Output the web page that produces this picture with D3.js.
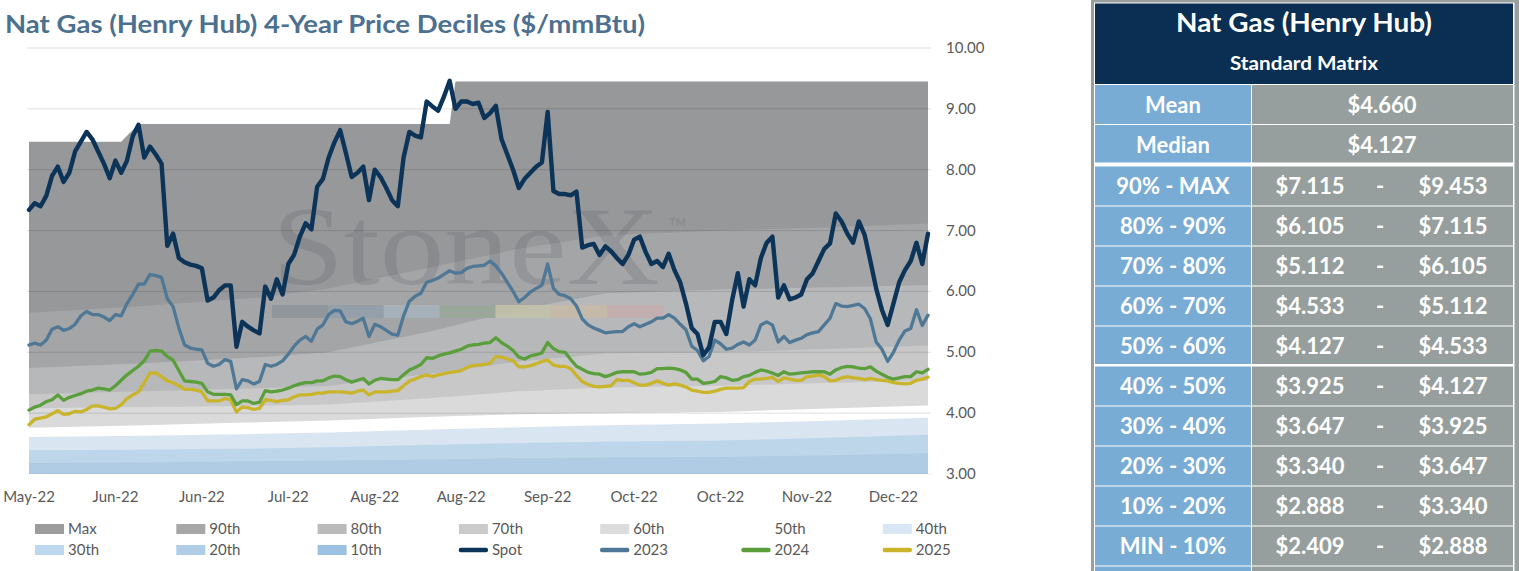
<!DOCTYPE html>
<html><head><meta charset="utf-8">
<script src="https://cdn.jsdelivr.net/npm/d3@7"></script>
<style>
html,body{margin:0;padding:0;background:#fff;}
svg{display:block;font-family:Lato,"Open Sans",sans-serif;}
</style></head><body>
<svg id="c" width="1519" height="571"></svg>
<script>
// ---------------- DATA ----------------
const tickLabels = ["May-22","Jun-22","Jun-22","Jul-22","Aug-22","Aug-22","Sep-22","Oct-22","Oct-22","Nov-22","Dec-22"];
const tickEvery = 15;
const yTicks = [3,4,5,6,7,8,9,10];

const spot = [7.34,7.45,7.40,7.57,7.9,8.05,7.8,7.95,8.3,8.46,
8.62,8.5,8.3,8.1,7.86,8.15,7.95,8.15,8.55,8.74,
8.2,8.38,8.25,8.1,6.75,6.95,6.55,6.48,6.44,6.42,
6.38,5.85,5.9,6.02,6.1,6.1,5.09,5.5,5.42,5.36,
5.31,6.08,5.88,6.2,5.95,6.45,6.6,6.9,7.12,7.02,
7.72,7.85,8.2,8.45,8.65,8.27,7.88,7.95,8.05,7.5,
8.0,7.88,7.7,7.5,7.4,8.2,8.62,8.56,8.53,9.12,
9.04,8.97,9.2,9.46,9.0,9.12,9.12,9.08,9.1,8.85,
8.93,9.05,8.5,8.25,8.0,7.7,7.85,7.95,8.05,8.12,
8.95,7.65,7.6,7.6,7.58,7.64,6.72,6.76,6.78,6.6,
6.74,6.66,6.55,6.45,6.6,6.85,6.9,6.65,6.45,6.5,
6.4,6.62,6.35,6.15,5.8,5.4,5.3,4.95,5.08,5.5,
5.5,5.3,5.85,6.3,5.75,6.2,6.1,6.55,6.8,6.9,
5.9,6.1,5.87,5.9,5.95,6.2,6.3,6.5,6.7,6.79,
7.28,7.15,6.95,6.8,7.15,6.93,6.5,6.05,5.7,5.45,
5.8,6.15,6.35,6.5,6.8,6.45,6.95];

const y2023 = [5.12,5.15,5.12,5.2,5.38,5.42,5.36,5.39,5.46,5.6,
5.67,5.62,5.62,5.58,5.52,5.62,5.6,5.8,5.95,6.12,
6.12,6.28,6.26,6.23,5.88,5.75,5.4,5.12,5.07,5.05,
5.04,4.82,4.77,4.8,4.88,4.85,4.4,4.55,4.53,4.48,
4.52,4.8,4.77,4.8,4.86,4.97,5.1,5.2,5.26,5.18,
5.38,5.45,5.62,5.69,5.68,5.5,5.47,5.51,5.56,5.26,
5.46,5.42,5.36,5.3,5.28,5.6,5.84,5.92,5.97,6.15,
6.18,6.22,6.28,6.34,6.3,6.31,6.38,6.41,6.42,6.43,
6.5,6.42,6.3,6.15,6.0,5.83,5.9,5.99,6.05,6.1,
6.45,6.05,5.95,5.93,5.88,5.76,5.55,5.45,5.4,5.36,
5.32,5.33,5.34,5.34,5.42,5.47,5.42,5.46,5.5,5.56,
5.56,5.62,5.56,5.46,5.37,5.1,5.03,4.86,4.93,5.2,
5.14,5.05,5.07,5.13,5.17,5.12,5.2,5.45,5.5,5.45,
5.17,5.26,5.16,5.2,5.23,5.29,5.32,5.34,5.45,5.56,
5.8,5.76,5.75,5.77,5.79,5.72,5.55,5.17,5.05,4.85,
5.0,5.2,5.35,5.39,5.7,5.44,5.61];

const y2024 = [4.05,4.1,4.13,4.19,4.22,4.3,4.21,4.26,4.29,4.32,
4.36,4.38,4.41,4.4,4.38,4.45,4.54,4.63,4.7,4.77,
4.86,5.02,5.03,5.02,4.93,4.87,4.7,4.53,4.52,4.51,
4.49,4.35,4.31,4.31,4.31,4.3,4.14,4.2,4.2,4.16,
4.18,4.37,4.35,4.36,4.38,4.41,4.45,4.48,4.5,4.5,
4.53,4.53,4.58,4.61,4.6,4.55,4.51,4.54,4.57,4.48,
4.54,4.57,4.56,4.55,4.55,4.63,4.71,4.75,4.8,4.91,
4.9,4.94,4.97,4.99,5.02,5.05,5.1,5.12,5.13,5.15,
5.16,5.24,5.16,5.1,5.03,4.92,4.89,4.94,4.96,4.99,
5.16,5.06,5.01,5.0,4.88,4.77,4.72,4.67,4.65,4.64,
4.6,4.63,4.67,4.68,4.68,4.68,4.64,4.65,4.67,4.73,
4.73,4.74,4.73,4.71,4.67,4.56,4.56,4.49,4.5,4.52,
4.6,4.58,4.54,4.55,4.6,4.62,4.67,4.71,4.69,4.66,
4.62,4.68,4.64,4.65,4.66,4.67,4.68,4.68,4.68,4.64,
4.71,4.75,4.77,4.76,4.74,4.73,4.76,4.69,4.64,4.59,
4.56,4.58,4.6,4.6,4.68,4.66,4.72];

const y2025 = [3.81,3.9,3.92,3.94,3.99,4.04,3.98,3.99,4.03,4.02,
4.06,4.12,4.12,4.1,4.07,4.08,4.14,4.24,4.3,4.35,
4.5,4.66,4.66,4.6,4.53,4.5,4.45,4.39,4.39,4.38,
4.35,4.2,4.2,4.2,4.24,4.22,4.02,4.1,4.09,4.06,
4.08,4.22,4.21,4.19,4.21,4.22,4.27,4.3,4.3,4.31,
4.33,4.33,4.35,4.35,4.35,4.34,4.33,4.36,4.38,4.3,
4.35,4.35,4.35,4.36,4.37,4.45,4.53,4.56,4.6,4.63,
4.6,4.63,4.65,4.67,4.68,4.7,4.75,4.78,4.79,4.8,
4.82,4.93,4.92,4.89,4.86,4.76,4.76,4.78,4.81,4.85,
4.87,4.79,4.77,4.77,4.73,4.62,4.52,4.47,4.44,4.43,
4.44,4.45,4.55,4.54,4.54,4.5,4.46,4.46,4.49,4.53,
4.49,4.46,4.48,4.46,4.43,4.38,4.36,4.34,4.34,4.36,
4.39,4.41,4.41,4.41,4.42,4.52,4.56,4.56,4.57,4.59,
4.52,4.58,4.56,4.54,4.54,4.6,4.61,4.63,4.6,4.53,
4.54,4.58,4.6,4.58,4.57,4.55,4.57,4.55,4.54,4.53,
4.5,4.49,4.48,4.49,4.54,4.56,4.59];

// decile curves (sampled on bandDays)
const bandDays = [0,20,40,52,70,85,100,120,140,156];
const maxDays  = [0,16,19,73,74,156];
const maxVals  = [8.46,8.46,8.75,8.75,9.45,9.45];
const p90 = [5.65,5.76,5.9,6.05,6.4,6.7,6.92,7.0,7.06,7.115];
const p80 = [4.74,4.82,4.92,5.0,5.35,5.7,5.97,6.03,6.07,6.105];
const p70 = [4.31,4.36,4.41,4.45,4.65,4.85,4.98,5.0,5.06,5.112];
const p60 = [4.08,4.1,4.12,4.14,4.25,4.36,4.42,4.45,4.5,4.533];
const p50 = [3.76,3.8,3.85,3.88,3.94,3.98,4.0,4.02,4.08,4.127];
const p40 = [3.61,3.63,3.66,3.68,3.73,3.77,3.8,3.83,3.88,3.925];
const p30 = [3.39,3.4,3.42,3.44,3.48,3.51,3.53,3.55,3.6,3.647];
const p20 = [3.18,3.19,3.21,3.22,3.24,3.26,3.27,3.28,3.31,3.34];
const p10 = [2.62,2.64,2.67,2.69,2.73,2.77,2.8,2.83,2.86,2.888];

// table
const tableTitle = "Nat Gas (Henry Hub)";
const tableSub = "Standard Matrix";
const statLabels = ["Mean","Median"];
const statVals = [4.660, 4.127];
const rangeLabels = ["90% - MAX","80% - 90%","70% - 80%","60% - 70%","50% - 60%","40% - 50%","30% - 40%","20% - 30%","10% - 20%","MIN - 10%"];
const rangeLow  = [7.115,6.105,5.112,4.533,4.127,3.925,3.647,3.340,2.888,2.409];
const rangeHigh = [9.453,7.115,6.105,5.112,4.533,4.127,3.925,3.647,3.340,2.888];

// ---------------- DRAW ----------------
const svg = d3.select("#c");
const L = 29, R = 928, T = 48, B = 474;
const x = d3.scaleLinear().domain([0, spot.length - 1]).range([L, R]);
const y = d3.scaleLinear().domain([3, 10]).range([B, T]);

svg.append("text").attr("x", 5).attr("y", 33)
  .attr("font-size", 25).attr("font-weight", 700).attr("fill", "#4c7090")
  .attr("textLength", 640).attr("lengthAdjust", "spacingAndGlyphs")
  .text("Nat Gas (Henry Hub) 4-Year Price Deciles ($/mmBtu)");

svg.append("clipPath").attr("id", "plotclip").append("rect")
  .attr("x", L).attr("y", T - 5).attr("width", R - L).attr("height", B - T + 5);

const bands = [
  {name:"Max",  days:maxDays,  vals:maxVals, color:"#97989a", legend:"#9c9c9c"},
  {name:"90th", days:bandDays, vals:p90, color:"#a4a5a7", legend:"#a7a7a7"},
  {name:"80th", days:bandDays, vals:p80, color:"#b7b8ba", legend:"#bbbbbb"},
  {name:"70th", days:bandDays, vals:p70, color:"#c8c8c9", legend:"#cbcbcb"},
  {name:"60th", days:bandDays, vals:p60, color:"#dadada", legend:"#dcdcdc"},
  {name:"50th", days:bandDays, vals:p50, color:"#ffffff", legend:"#ffffff"},
  {name:"40th", days:bandDays, vals:p40, color:"#d9e5f1", legend:"#d9e6f3"},
  {name:"30th", days:bandDays, vals:p30, color:"#bdd6ea", legend:"#bdd7ee"},
  {name:"20th", days:bandDays, vals:p20, color:"#afcce4", legend:"#b0cde7"},
  {name:"10th", days:bandDays, vals:p10, color:"#9bc2e3", legend:"#9bc1e2"}
];
const gBands = svg.append("g").attr("clip-path", "url(#plotclip)");
bands.forEach(b => {
  const pts = b.days.map((d, i) => [d, b.vals[i]]);
  gBands.append("path")
    .attr("d", d3.area().x(p => x(p[0])).y0(y(3) + 10).y1(p => y(p[1]))(pts))
    .attr("fill", b.color);
});

// watermark
const wm = svg.append("g");
wm.append("text").attr("x", 272).attr("y", 284)
  .attr("font-family", "'Liberation Serif','DejaVu Serif',serif")
  .attr("font-size", 112).attr("textLength", 388).attr("lengthAdjust", "spacingAndGlyphs")
  .attr("fill", "#4a5058").attr("fill-opacity", 0.18).text("StoneX");
wm.append("text").attr("x", 669).attr("y", 226)
  .attr("font-size", 11).attr("font-weight", 700)
  .attr("fill", "#4a5058").attr("fill-opacity", 0.18).text("TM");
const wmColors = ["#8e959b","#929eab","#a6b2bd","#9aa799","#c2c1aa","#c7baa8","#c2aeae"];
const segW = (663 - 272) / wmColors.length;
wm.selectAll("rect.seg").data(wmColors).join("rect")
  .attr("x", (d, i) => 272 + i * segW).attr("y", 305)
  .attr("width", segW + 0.3).attr("height", 13).attr("fill", d => d).attr("opacity", 0.9);

// gridlines
svg.append("g").selectAll("line").data(yTicks).join("line")
  .attr("x1", L - 2).attr("x2", R + 3)
  .attr("y1", d => y(d)).attr("y2", d => y(d))
  .attr("stroke", "#000").attr("stroke-opacity", d => d === 3 ? 0.06 : 0.13).attr("stroke-width", 1);

// y labels
svg.append("g").selectAll("text").data(yTicks).join("text")
  .attr("x", 946).attr("y", d => y(d) + 5)
  .attr("font-size", 15).attr("fill", "#595959")
  .text(d3.format(".2f"));

// x labels
svg.append("g").selectAll("text").data(tickLabels).join("text")
  .attr("x", (d, i) => x(i * tickEvery)).attr("y", 502)
  .attr("text-anchor", "middle").attr("font-size", 15).attr("fill", "#595959")
  .text(d => d);

// lines
const lineGen = d3.line().x((d, i) => x(i)).y(d => y(d));
const series = [
  {name:"2025", vals:y2025, color:"#c9b42b", w:3.3},
  {name:"2024", vals:y2024, color:"#5b9f3d", w:3.3},
  {name:"2023", vals:y2023, color:"#4f7896", w:3.3},
  {name:"Spot", vals:spot,  color:"#0c3358", w:4.4}
];
series.forEach(s => {
  svg.append("path").attr("d", lineGen(s.vals))
    .attr("fill", "none").attr("stroke", s.color).attr("stroke-width", s.w)
    .attr("stroke-linejoin", "round").attr("stroke-linecap", "round");
});

// legend
const legendItems = bands.map(b => ({name:b.name, color:b.legend, line:false}))
  .concat(series.slice().reverse().map(s => ({name:s.name, color:s.color, line:true})));
const lg = svg.append("g");
legendItems.forEach((it, i) => {
  const col = i % 7, row = Math.floor(i / 7);
  const lx = 35 + col * 141.3, ly = 529 + row * 21;
  if (it.line) {
    lg.append("line").attr("x1", lx + 2).attr("x2", lx + 27).attr("y1", ly).attr("y2", ly)
      .attr("stroke", it.color).attr("stroke-width", 4.5).attr("stroke-linecap", "round");
  } else {
    lg.append("rect").attr("x", lx).attr("y", ly - 5).attr("width", 29).attr("height", 10)
      .attr("fill", it.color);
  }
  lg.append("text").attr("x", lx + 33).attr("y", ly + 5)
    .attr("font-size", 15).attr("fill", "#595959").text(it.name);
});

// ---------------- TABLE ----------------
const tg = svg.append("g");
tg.append("rect").attr("x", 1091).attr("y", 0).attr("width", 428).attr("height", 571).attr("fill", "#989f9e");
tg.append("rect").attr("x", 1094).attr("y", 2.5).attr("width", 420.5).attr("height", 569).attr("fill", "#ffffff");
tg.append("rect").attr("x", 1095).attr("y", 3.5).attr("width", 418).attr("height", 80.5).attr("fill", "#0b2f52");
tg.append("text").attr("x", 1304).attr("y", 32).attr("text-anchor", "middle")
  .attr("font-size", 26).attr("font-weight", 700).attr("fill", "#fff")
  .attr("textLength", 256).attr("lengthAdjust", "spacingAndGlyphs").text(tableTitle);
tg.append("text").attr("x", 1304).attr("y", 70).attr("text-anchor", "middle")
  .attr("font-size", 18).attr("font-weight", 700).attr("fill", "#fff")
  .attr("textLength", 148).attr("lengthAdjust", "spacingAndGlyphs").text(tableSub);

const rows = statLabels.map((l, i) => ({label:l, single:statVals[i]}))
  .concat(rangeLabels.map((l, i) => ({label:l, lo:rangeLow[i], hi:rangeHigh[i]})));
const money = v => "$" + d3.format(".3f")(v);
const fs = 22;
rows.concat([{label:"", blank:true}]).forEach((r, i) => {
  const top = 85 + 40 * i + (i >= 2 ? 1.5 : 0);
  let h = 39 - ((i === 1 || i === 6) ? 1.5 : 0);
  if (r.blank) h = 10;
  tg.append("rect").attr("x", 1095).attr("y", top).attr("width", 156).attr("height", h).attr("fill", "#79acd5");
  tg.append("rect").attr("x", 1252).attr("y", top).attr("width", 261).attr("height", h).attr("fill", "#979f9e");
  if (r.blank) return;
  const cy = top + 19.5 + 8;
  tg.append("text").attr("x", 1173).attr("y", cy).attr("text-anchor", "middle")
    .attr("font-size", fs).attr("font-weight", 700).attr("fill", "#fff").text(r.label);
  if (r.single !== undefined) {
    tg.append("text").attr("x", 1382).attr("y", cy).attr("text-anchor", "middle")
      .attr("font-size", fs).attr("font-weight", 700).attr("fill", "#fff").text(money(r.single));
  } else {
    tg.append("text").attr("x", 1310).attr("y", cy).attr("text-anchor", "middle")
      .attr("font-size", fs).attr("font-weight", 700).attr("fill", "#fff").text(money(r.lo));
    tg.append("text").attr("x", 1380).attr("y", cy).attr("text-anchor", "middle")
      .attr("font-size", fs).attr("font-weight", 700).attr("fill", "#fff").text("-");
    tg.append("text").attr("x", 1453).attr("y", cy).attr("text-anchor", "middle")
      .attr("font-size", fs).attr("font-weight", 700).attr("fill", "#fff").text(money(r.hi));
  }
});
</script>
</body></html>
